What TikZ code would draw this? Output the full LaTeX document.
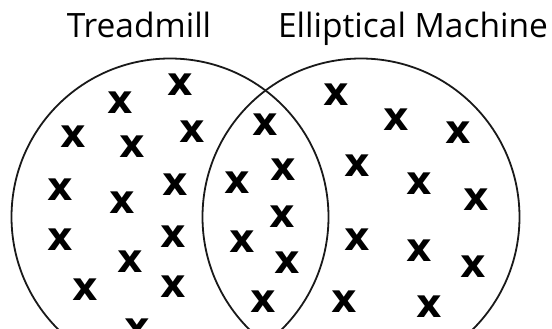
\documentclass[tikz,border=0pt]{standalone}
\usepackage{fontspec}
\setmainfont{Open Sans}
\newfontfamily\xmfont{DejaVu Sans}
\begin{document}
\begin{tikzpicture}[x=1pt,y=-1pt,
  xmark/.style={inner sep=0pt, font=\xmfont\bfseries\fontsize{39.6}{40}\selectfont},
  title/.style={inner sep=0pt, anchor=base, font=\fontsize{33.5}{36}\selectfont},
  ring/.style={draw=black!90, line width=1.8pt}]
\useasboundingbox (0,0) rectangle (552,329);
\clip (0,0) rectangle (552,329);
\node[title] (t1) at (139,38) {Treadmill};
\node[title] (t2) at (413,38) {Elliptical Machine};
\node[ring, circle, minimum size=317pt, inner sep=0pt] (cA) at (170,217) {};
\node[ring, circle, minimum size=317pt, inner sep=0pt] (cB) at (361,217) {};
% left only
\node[xmark] (a1) at (180,85) {x};
\node[xmark] (a2) at (120,103) {x};
\node[xmark] (a3) at (73,137) {x};
\node[xmark] (a4) at (132,147) {x};
\node[xmark] (a5) at (192,132) {x};
\node[xmark] (a6) at (60,190) {x};
\node[xmark] (a7) at (122,203) {x};
\node[xmark] (a8) at (175,185) {x};
\node[xmark] (a9) at (60,240) {x};
\node[xmark] (a10) at (173,237) {x};
\node[xmark] (a11) at (130,262) {x};
\node[xmark] (a12) at (85,290) {x};
\node[xmark] (a13) at (173,287) {x};
\node[xmark] (a14) at (137,330) {x};
% both
\node[xmark] (b1) at (265,125) {x};
\node[xmark] (b2) at (237,183) {x};
\node[xmark] (b3) at (283,170) {x};
\node[xmark] (b4) at (282,217) {x};
\node[xmark] (b5) at (242,242) {x};
\node[xmark] (b6) at (287,263) {x};
\node[xmark] (b7) at (263,302) {x};
% right only
\node[xmark] (c1) at (336,95) {x};
\node[xmark] (c2) at (396,120) {x};
\node[xmark] (c3) at (458,133) {x};
\node[xmark] (c4) at (357,166) {x};
\node[xmark] (c5) at (419,184) {x};
\node[xmark] (c6) at (476,200) {x};
\node[xmark] (c7) at (357,240) {x};
\node[xmark] (c8) at (419,251) {x};
\node[xmark] (c9) at (473,267) {x};
\node[xmark] (c10) at (344,302) {x};
\node[xmark] (c11) at (429,307) {x};
\end{tikzpicture}
\end{document}
